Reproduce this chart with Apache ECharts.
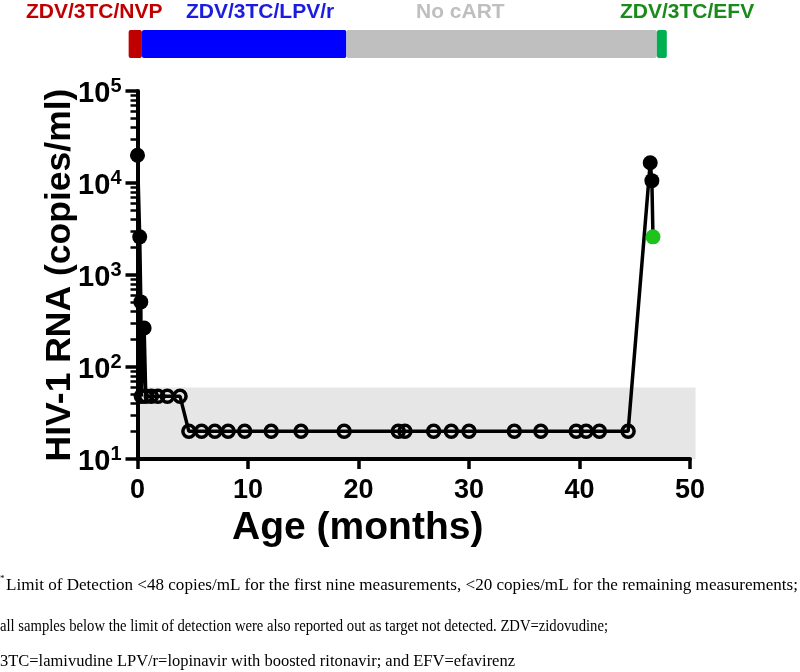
<!DOCTYPE html>
<html><head><meta charset="utf-8">
<script src="https://cdn.jsdelivr.net/npm/echarts@6/dist/echarts.min.js"></script>
<style>html,body{margin:0;padding:0;background:#fff}#chart{width:800px;height:672px}</style>
</head><body><div id="chart"></div>
<script>
// ---------------- data ----------------
const ageMonths = [0, 0.2, 0.3, 0.35, 0.6, 0.75, 1.25, 1.85, 2.7, 3.85,
  4.65, 5.8, 7.0, 8.2, 9.7, 12.1, 14.8, 18.7, 23.6, 24.2, 26.8, 28.4, 30.0, 34.1, 36.5, 39.7, 40.6, 41.8, 44.4,
  46.4, 46.55, 46.65];
const rnaCopies = [20000, 2600, 510, 48, 265, 48, 48, 48, 48, 48,
  20, 20, 20, 20, 20, 20, 20, 20, 20, 20, 20, 20, 20, 20, 20, 20, 20, 20, 20,
  16600, 10600, 2600];
// det = detected (filled), und = below limit of detection (open), efv = on EFV (green)
const pointKind = ['det', 'det', 'det', 'und', 'det', 'und', 'und', 'und', 'und', 'und',
  'und', 'und', 'und', 'und', 'und', 'und', 'und', 'und', 'und', 'und', 'und', 'und', 'und', 'und', 'und', 'und', 'und', 'und', 'und',
  'det', 'det', 'efv'];
const xTickValues = [0, 10, 20, 30, 40, 50];
const yTickExponents = [1, 2, 3, 4, 5];
const yMinorTickValues = [20, 30, 40, 50, 60, 70, 80, 90, 200, 300, 400, 500, 600, 700, 800, 900,
  2000, 3000, 4000, 5000, 6000, 7000, 8000, 9000, 20000, 30000, 40000, 50000, 60000, 70000, 80000, 90000];
const shadedAge = [0, 50.5];
const shadedRna = [10, 60];
const regimenNames = ['ZDV/3TC/NVP', 'ZDV/3TC/LPV/r', 'No cART', 'ZDV/3TC/EFV'];
const regimenStart = [-0.8, 0.4, 18.9, 47.0];
const regimenEnd = [0.4, 18.9, 47.0, 47.9];
const footnoteLines = [
  'Limit of Detection <48 copies/mL for the first nine measurements, <20 copies/mL for the remaining measurements;',
  'all samples below the limit of detection were also reported out as target not detected. ZDV=zidovudine;',
  '3TC=lamivudine LPV/r=lopinavir with boosted ritonavir; and EFV=efavirenz'
];

// ---------------- styles ----------------
const regimenColors = ['#c00000', '#0000ff', '#bfbfbf', '#00b050'];
const regimenTextColors = ['#c00000', '#1c1ce0', '#bfbfbf', '#1a8a1a'];
const regimenTextX = [26, 186, 416, 620];
const footY = [586, 627, 662];
const footX = [6, 0, 0];
const footWidth = [792, 608, 515];
const SANS = '"Liberation Sans", Arial, sans-serif';
const SERIF = '"Liberation Serif", "Times New Roman", serif';
const FOOT_FONT = '16px ' + SERIF;

const measureCtx = document.createElement('canvas').getContext('2d');
measureCtx.font = FOOT_FONT;

const yMin = Math.pow(10, yTickExponents[0]);
const yMax = Math.pow(10, yTickExponents[yTickExponents.length - 1]);

const lineData = ageMonths.map((a, i) => {
  const k = pointKind[i];
  if (k === 'und') {
    return { value: [a, rnaCopies[i]], symbol: 'circle', symbolSize: 12,
      itemStyle: { color: 'rgba(0,0,0,0)', borderColor: '#000', borderWidth: 3.5 } };
  }
  return { value: [a, rnaCopies[i]], symbol: 'circle', symbolSize: 15,
    itemStyle: { color: k === 'efv' ? '#1ec31e' : '#000', borderWidth: 0 } };
});

const chart = echarts.init(document.getElementById('chart'), null, { renderer: 'canvas' });
const pxPerMonth = 552.5 / 50;

chart.setOption({
  animation: false,
  backgroundColor: '#fff',
  textStyle: { fontFamily: SANS },
  grid: [
    { left: 137.5, width: 552.5, top: 91, height: 368, containLabel: false },
    { left: 137.5 - pxPerMonth, width: pxPerMonth * 51, top: 30, height: 28, containLabel: false }
  ],
  xAxis: [
    {
      type: 'value', gridIndex: 0, min: xTickValues[0], max: xTickValues[xTickValues.length - 1],
      interval: xTickValues[1] - xTickValues[0], z: 1,
      axisLine: { lineStyle: { color: '#000', width: 4 } },
      axisTick: { length: 10, lineStyle: { color: '#000', width: 3.5 } },
      axisLabel: { color: '#000', fontSize: 27, fontWeight: 'bold', fontFamily: SANS, margin: 18 },
      splitLine: { show: false },
      name: 'Age (months)', nameLocation: 'middle', nameGap: 50,
      nameTextStyle: { color: '#000', fontSize: 39, fontWeight: 'bold', fontFamily: SANS, padding: [0, 112, 0, 0] }
    },
    { type: 'value', gridIndex: 1, min: -1, max: 50, show: false }
  ],
  yAxis: [
    {
      type: 'log', logBase: 10, gridIndex: 0, min: yMin, max: yMax, z: 1,
      axisLine: { lineStyle: { color: '#000', width: 4 } },
      axisTick: { length: 12, lineStyle: { color: '#000', width: 3.5 } },
      axisLabel: {
        margin: 16,
        padding: [6, 0, 0, 0],
        formatter: v => '{b|10}{s|' + Math.round(Math.log10(v)) + '}',
        rich: {
          b: { fontSize: 29, fontWeight: 'bold', color: '#000', fontFamily: SANS, lineHeight: 36, verticalAlign: 'middle' },
          s: { fontSize: 20, fontWeight: 'bold', color: '#000', fontFamily: SANS, lineHeight: 20, verticalAlign: 'top' }
        }
      },
      splitLine: { show: false }, minorTick: { show: false },
      name: 'HIV-1 RNA (copies/ml)', nameLocation: 'middle', nameGap: 59, nameRotate: 90, nameMoveOverlap: false,
      nameTextStyle: { color: '#000', fontSize: 35.5, fontWeight: 'bold', fontFamily: SANS }
    },
    {
      type: 'value', gridIndex: 0, position: 'left', min: yTickExponents[0], max: yTickExponents[yTickExponents.length - 1], z: 1,
      axisLine: { show: false }, axisLabel: { show: false }, splitLine: { show: false },
      axisTick: { show: true, length: 7, customValues: yMinorTickValues.map(v => Math.log10(v)),
        lineStyle: { color: '#000', width: 2.5 } }
    },
    { type: 'value', gridIndex: 1, min: 0, max: 1, show: false }
  ],
  series: [
    {
      type: 'custom', xAxisIndex: 0, yAxisIndex: 0, z: 0, silent: true,
      data: [[shadedAge[0], shadedRna[0], shadedAge[1], shadedRna[1]]],
      renderItem: (params, api) => {
        const p0 = api.coord([api.value(0), api.value(1)]);
        const p1 = api.coord([api.value(2), api.value(3)]);
        return { type: 'rect', shape: { x: p0[0], y: p1[1], width: p1[0] - p0[0], height: p0[1] - p1[1] },
          style: { fill: '#e6e6e6' } };
      }
    },
    {
      type: 'line', xAxisIndex: 0, yAxisIndex: 0, z: 3,
      data: lineData,
      lineStyle: { color: '#000', width: 3.5 },
      showAllSymbol: true
    },
    {
      type: 'custom', xAxisIndex: 1, yAxisIndex: 2, silent: true,
      data: regimenStart.map((s, i) => [s, 0, regimenEnd[i], 1, i]),
      renderItem: (params, api) => {
        const p0 = api.coord([api.value(0), api.value(1)]);
        const p1 = api.coord([api.value(2), api.value(3)]);
        return { type: 'rect', shape: { x: p0[0], y: p1[1], width: p1[0] - p0[0], height: p0[1] - p1[1], r: 2 },
          style: { fill: regimenColors[api.value(4)] } };
      }
    }
  ],
  graphic: [
    ...regimenNames.map((n, i) => ({
      type: 'text', x: regimenTextX[i], y: 12,
      style: { text: n, fill: regimenTextColors[i], font: 'bold 21px ' + SANS, verticalAlign: 'middle' }
    })),
    { type: 'text', x: 0, y: 579, style: { text: '*', fill: '#000', font: '9px ' + SERIF, verticalAlign: 'middle' } },
    ...footnoteLines.map((t, i) => ({
      type: 'text', x: footX[i], y: footY[i],
      scaleX: footWidth[i] / measureCtx.measureText(t).width,
      style: { text: t, fill: '#000', font: FOOT_FONT, verticalAlign: 'middle' }
    }))
  ]
});
</script>
</body></html>
